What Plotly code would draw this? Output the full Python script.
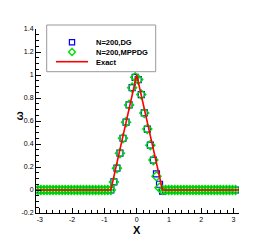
import numpy as np
import plotly.graph_objects as go

# ---------------- data ----------------
N_CELLS = 200
# marker x positions: every 3rd cell centre of the N=200 mesh on [-pi, pi]
h = 2 * np.pi / N_CELLS
cell_idx = list(range(2, 200, 3))  # 66 markers
x_mark = [-np.pi + (i + 0.5) * h for i in cell_idx]

dg_vals = [0.0] * 25 + [0.07, 0.19, 0.32, 0.45, 0.59, 0.74, 0.89, 0.98,
                        0.96, 0.83, 0.67, 0.53, 0.39, 0.26, 0.14, 0.05, -0.01] + [0.0] * 24
mppdg_vals = [0.0] * 25 + [0.07, 0.19, 0.32, 0.45, 0.59, 0.74, 0.89, 0.98,
                           0.96, 0.83, 0.67, 0.53, 0.39, 0.26, 0.12, 0.02, 0.0] + [0.0] * 24

exact_x = [-3.2, -0.8, 0.0, 0.8, 3.2]
exact_y = [0.0, 0.0, 1.0, 0.0, 0.0]

series_names = ["N=200,DG", "N=200,MPPDG", "Exact"]
x_ticks = [-3, -2, -1, 0, 1, 2, 3]
x_ticktext = ["-3", "-2", "-1", "0", "1", "2", "3"]
y_ticks = [-0.2, 0, 0.2, 0.4, 0.6, 0.8, 1, 1.2, 1.4]
y_ticktext = ["-0.2", "0", "0.2", "0.4", "0.6", "0.8", "1", "1.2", "1.4"]
x_title = "X"
y_title = "ω"

BLUE = "#0000ff"
GREEN = "#00dd00"
RED = "#ff0000"
FONT = "Liberation Sans, Arial, sans-serif"

fig = go.Figure()
fig.add_trace(go.Scatter(x=x_mark, y=dg_vals, mode="markers", name=series_names[0],
                         marker=dict(symbol="square-open", size=6, color=BLUE,
                                     line=dict(width=1.2, color=BLUE)),
                         showlegend=False, cliponaxis=True))
fig.add_trace(go.Scatter(x=x_mark, y=mppdg_vals, mode="markers", name=series_names[1],
                         marker=dict(symbol="diamond-open", size=7, color=GREEN,
                                     line=dict(width=1.4, color=GREEN)),
                         showlegend=False, cliponaxis=True))
fig.add_trace(go.Scatter(x=exact_x, y=exact_y, mode="lines", name=series_names[2],
                         line=dict(color=RED, width=1.6), showlegend=False))

# ---------------- layout ----------------
W, H = 271, 241
L, R, T, B = 36, 32, 29, 28
PW, PH = W - L - R, H - T - B


def px(xp):
    return (xp - L) / PW


def py(yp):
    return (H - B - yp) / PH


rows = [42.3, 52.0, 61.7]
shapes = []
# legend frame
shapes.append(dict(type="rect", xref="paper", yref="paper",
                   x0=px(46.7), x1=px(155.7), y0=py(71.7), y1=py(25),
                   line=dict(color="#999999", width=1), fillcolor="white", layer="above"))
# legend square (DG)
cx, cy = 72, rows[0]
shapes.append(dict(type="rect", xref="paper", yref="paper",
                   x0=px(cx - 2.6), x1=px(cx + 2.6), y0=py(cy + 2.6), y1=py(cy - 2.6),
                   line=dict(color=BLUE, width=1.2), layer="above"))
# legend diamond (MPPDG)
cx, cy, d = 72, rows[1], 3.4
path = "M {a},{b} L {c},{e} L {f},{g} L {i},{j} Z".format(
    a=px(cx), b=py(cy - d), c=px(cx + d), e=py(cy),
    f=px(cx), g=py(cy + d), i=px(cx - d), j=py(cy))
shapes.append(dict(type="path", xref="paper", yref="paper", path=path,
                   line=dict(color=GREEN, width=1.4), layer="above"))
# legend line (Exact)
shapes.append(dict(type="line", xref="paper", yref="paper",
                   x0=px(56), x1=px(88), y0=py(rows[2]), y1=py(rows[2]),
                   line=dict(color=RED, width=1.6), layer="above"))

annotations = [
    dict(text="<br>".join("<b>%s</b>" % n for n in series_names),
         xref="paper", yref="paper", x=px(93.7), y=py(rows[1]),
         xanchor="left", yanchor="middle", align="left", showarrow=False,
         font=dict(family=FONT, size=7.5, color="black")),
    dict(text="<b>%s</b>" % x_title, xref="paper", yref="paper",
         x=px(136.6), y=py(229.5), xanchor="center", yanchor="middle", showarrow=False,
         font=dict(family=FONT, size=11, color="black")),
    dict(text="<b>%s</b>" % y_title, xref="paper", yref="paper",
         x=px(18.5), y=py(116), xanchor="center", yanchor="middle", showarrow=False,
         textangle=-90, font=dict(family=FONT, size=11, color="black")),
]

fig.update_layout(
    width=W, height=H,
    margin=dict(l=L, r=R, t=T, b=B, pad=0, autoexpand=False),
    paper_bgcolor="white", plot_bgcolor="white",
    font=dict(family=FONT, size=7, color="black"),
    shapes=shapes, annotations=annotations,
    showlegend=False,
)
fig.update_xaxes(
    range=[-3.12, 3.17], showgrid=False, zeroline=False, automargin=False,
    showline=True, linecolor="black", linewidth=1, mirror=False,
    tickmode="array", tickvals=x_ticks, ticktext=x_ticktext,
    ticks="inside", ticklen=5, tickwidth=1, tickcolor="black",
    minor=dict(ticks="inside", ticklen=3, dtick=0.2, tick0=0, tickcolor="black", showgrid=False),
    tickfont=dict(family=FONT, size=7, color="black"),
)
fig.update_yaxes(
    range=[-0.2, 1.4], showgrid=False, zeroline=False, automargin=False,
    showline=True, linecolor="black", linewidth=1, mirror=False,
    tickmode="array", tickvals=y_ticks, ticktext=y_ticktext,
    ticks="inside", ticklen=5, tickwidth=1, tickcolor="black",
    minor=dict(ticks="inside", ticklen=3, dtick=0.05, tick0=0, tickcolor="black", showgrid=False),
    tickfont=dict(family=FONT, size=7, color="black"),
)

fig.write_html(
    "out.html",
    config={"displayModeBar": False, "responsive": False},
    post_script="document.body.style.margin='0px';document.body.style.overflow='hidden';",
)
